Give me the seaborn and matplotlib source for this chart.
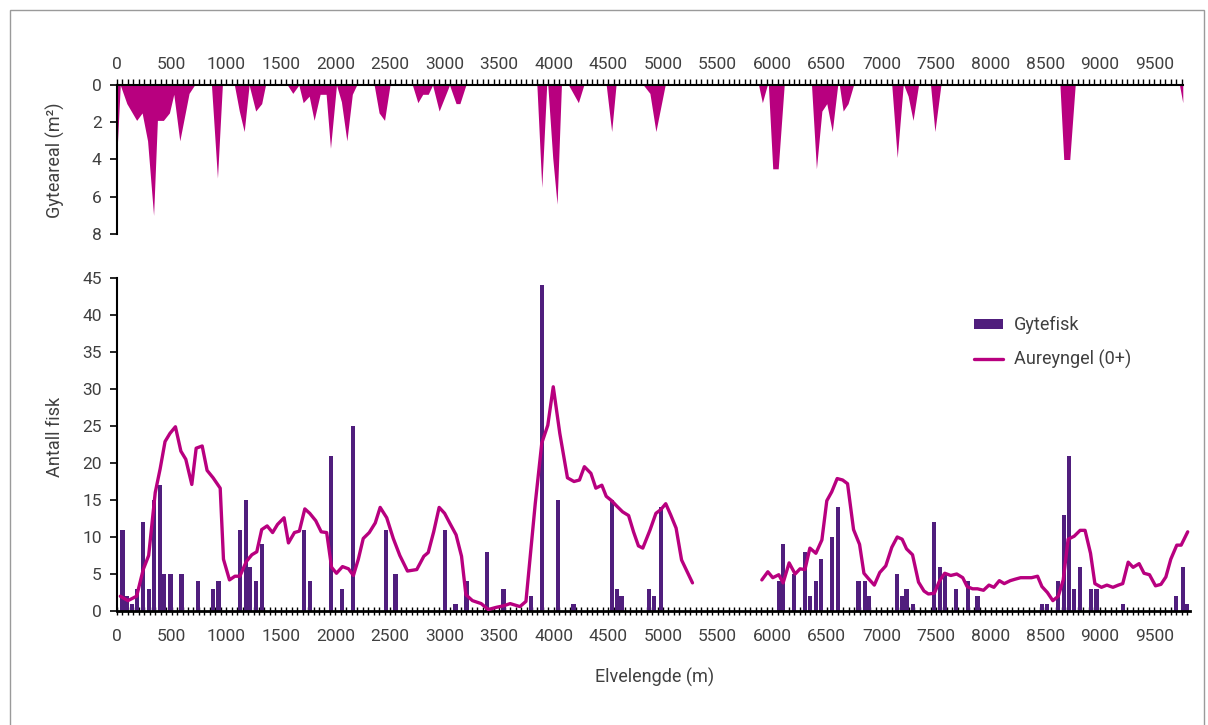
import numpy as np
import seaborn as sns
import matplotlib.pyplot as plt
from matplotlib.ticker import MultipleLocator
from matplotlib.patches import Rectangle

# Gyteareal (m2) along the river, top panel
areal_pos = [0, 30, 90, 180, 230, 280, 335, 370, 425, 480, 520, 575, 660, 710,
             865, 920, 965,
             1075, 1120, 1165, 1210, 1270, 1325, 1360,
             1560, 1610, 1665, 1705, 1760, 1805, 1860, 1915, 1955, 2010, 2055, 2105, 2155, 2195,
             2355, 2400, 2450, 2500,
             2705, 2755, 2800, 2850, 2890, 2950, 3045, 3105, 3140, 3195,
             3845, 3890, 3935, 3945, 3990, 4030, 4070,
             4135, 4225, 4275,
             4480, 4530, 4570,
             4820, 4880, 4935, 5020,
             5875, 5910, 5955, 5965, 6005, 6055, 6110,
             6360, 6405, 6455, 6500, 6550, 6600, 6615, 6650, 6695, 6745,
             7095, 7145, 7200, 7205, 7245, 7290, 7340,
             7450, 7490, 7545,
             8635, 8670, 8725, 8775,
             9730, 9760]
areal_val = [3.6, 0, 1, 1.9, 1.5, 3, 7, 1.9, 1.9, 1.5, 0.5, 3, 0.45, 0,
             0, 5, 0,
             0, 1.4, 2.5, 0, 1.4, 1, 0,
             0, 0.45, 0, 0.95, 0.6, 1.9, 0.5, 0.5, 3.4, 0, 0.9, 3, 0.5, 0,
             0, 1.5, 1.9, 0,
             0, 0.95, 0.5, 0.5, 0, 1.4, 0, 1, 1, 0,
             0, 5.5, 0, 0, 3.9, 6.4, 0,
             0, 0.95, 0,
             0, 2.5, 0,
             0, 0.45, 2.5, 0,
             0, 0.95, 0, 0, 4.5, 4.5, 0,
             0, 4.5, 1.4, 1, 2.5, 0, 0, 1.4, 1, 0,
             0, 3.9, 0, 0, 0.6, 1.9, 0,
             0, 2.5, 0,
             0, 4, 4, 0,
             0, 0.95]

# Gytefisk (bars)
gyte_pos = [50, 90, 140, 180, 240, 290, 340, 390, 430, 490,
            590, 740, 880, 930, 1130, 1180, 1220, 1270, 1330, 1710,
            1770, 1960, 2060, 2160, 2460, 2550, 3000, 3100, 3200, 3390,
            3540, 3790, 3890, 4040, 4180, 4530, 4580, 4620, 4870, 4920,
            4980, 6060, 6100, 6200, 6300, 6350, 6400, 6450, 6550, 6600,
            6790, 6850, 6890, 7140, 7190, 7230, 7290, 7480, 7540, 7580,
            7680, 7790, 7880, 8470, 8520, 8620, 8670, 8720, 8760, 8820,
            8920, 8970, 9210, 9700, 9760, 9800]
gyte_val = [11, 2, 1, 3, 12, 3, 15, 17, 5, 5,
            5, 4, 3, 4, 11, 15, 6, 4, 9, 11,
            4, 21, 3, 25, 11, 5, 11, 1, 4, 8,
            3, 2, 44, 15, 1, 15, 3, 2, 3, 2,
            14, 4, 9, 5, 8, 2, 4, 7, 10, 14,
            4, 4, 2, 5, 2, 3, 1, 12, 6, 5,
            3, 4, 2, 1, 1, 4, 13, 21, 3, 6,
            3, 3, 1, 2, 6, 1]

# Aureyngel (0+), two stretches with a gap in between
aure_pos1 = [30, 100, 180, 240, 290, 350, 395, 440, 485, 535, 585, 630, 685, 725, 780,
             825, 880, 945, 975, 1030, 1080, 1125, 1185, 1235, 1280, 1325, 1375, 1425,
             1470, 1530, 1570, 1625, 1670, 1720, 1765, 1820, 1870, 1920, 1965, 2010,
             2065, 2120, 2165, 2210, 2255, 2310, 2365, 2410, 2470, 2530, 2590, 2660,
             2745, 2810, 2850, 2900, 2950, 3000, 3050, 3105, 3155, 3195, 3255, 3335,
             3400, 3475, 3540, 3600, 3690, 3745, 3830, 3890, 3945, 3995, 4055, 4125,
             4185, 4235, 4280, 4340, 4385, 4440, 4480, 4530, 4575, 4630, 4685, 4730,
             4775, 4815, 4880, 4935, 4980, 5025, 5070, 5120, 5170, 5270]
aure_val1 = [2.0, 1.4, 2.0, 5.6, 7.5, 16, 19.2, 22.9, 24, 24.9, 21.6, 20.5, 17.1, 22, 22.3,
             19, 18, 16.6, 7, 4.2, 4.7, 4.7, 6.7, 7.6, 8, 11, 11.5, 10.6,
             11.7, 12.6, 9.2, 10.6, 10.8, 13.8, 13.2, 12.2, 10.7, 10.6, 5.9, 5.1,
             6, 5.7, 4.8, 7, 9.8, 10.6, 11.9, 14, 12.6, 9.8, 7.5, 5.4,
             5.6, 7.4, 7.9, 10.7, 14, 13.2, 11.8, 10.3, 7.4, 2.2, 1.4, 1.0,
             0.2, 0.5, 0.7, 1.0, 0.6, 1.3, 14.5, 22.7, 25.1, 30.3, 24, 18,
             17.5, 17.7, 19.5, 18.6, 16.6, 17, 15.5, 14.9, 14.2, 13.4, 12.9, 10.7,
             8.8, 8.5, 10.9, 13.2, 13.7, 14.5, 13, 11.2, 6.9, 3.8]
aure_pos2 = [5905, 5960, 6005, 6060, 6100, 6155, 6210, 6255, 6300, 6345, 6400, 6455,
             6500, 6545, 6595, 6645, 6690, 6745, 6800, 6840, 6880, 6935, 6985, 7040,
             7095, 7145, 7190, 7230, 7285, 7340, 7390, 7430, 7485, 7530, 7580, 7635,
             7690, 7745, 7785, 7835, 7880, 7935, 7985, 8030, 8080, 8125, 8180, 8225,
             8275, 8325, 8375, 8430, 8470, 8520, 8570, 8620, 8665, 8710, 8765, 8820,
             8865, 8915, 8955, 9015, 9065, 9120, 9170, 9210, 9260, 9305, 9360, 9405,
             9455, 9510, 9560, 9605, 9650, 9705, 9745, 9805]
aure_val2 = [4.2, 5.3, 4.5, 4.9, 3.8, 6.5, 5, 5.7, 5.6, 8.5, 7.8, 9.6,
             14.9, 16.1, 17.9, 17.7, 17.2, 11, 9, 5.1, 4.4, 3.5, 5.2, 6.1,
             8.6, 10, 9.7, 8.4, 7.6, 3.9, 2.7, 2.3, 2.4, 4, 5.1, 4.8,
             5, 4.5, 3.3, 3, 3, 2.8, 3.5, 3.2, 4.1, 3.7, 4.1, 4.3,
             4.5, 4.5, 4.5, 4.7, 3.3, 2.5, 1.4, 2, 4.2, 9.7, 10.1, 10.9,
             10.9, 7.8, 3.7, 3.2, 3.5, 3.2, 3.5, 3.7, 6.6, 5.9, 6.4, 5.1,
             4.9, 3.4, 3.6, 4.6, 7, 8.9, 8.9, 10.7]

PURPLE = "#501e7d"
MAGENTA = "#b8007f"
TXT = "#404040"
BAR_W = 38  # metres

sns.set_style("ticks")
plt.rcParams['font.family'] = ['Roboto', 'DejaVu Sans']
plt.rcParams['text.color'] = TXT
plt.rcParams['xtick.color'] = "black"
plt.rcParams['ytick.color'] = "black"
plt.rcParams['xtick.labelcolor'] = TXT
plt.rcParams['ytick.labelcolor'] = TXT

W, H = 1208, 725
fig = plt.figure(figsize=(W / 100, H / 100), dpi=100)
fig.patches.append(Rectangle((10 / W, -0.1), (1204 - 10) / W, 1 - 10 / H + 0.1,
                             transform=fig.transFigure, fill=False, ec="#9a9a9a", lw=1))

# top panel: spawning area, hanging down from the axis
ax1 = fig.add_axes([117 / W, 1 - 234 / H, 1066 / W, 149 / H])
ax1.fill_between(areal_pos, areal_val, 0, color=MAGENTA, lw=0)
ax1.set_xlim(0, 9762)
ax1.set_ylim(8, 0)
ax1.xaxis.tick_top()
ax1.xaxis.set_major_locator(MultipleLocator(500))
ax1.xaxis.set_minor_locator(MultipleLocator(50))
ax1.yaxis.set_major_locator(MultipleLocator(2))
ax1.tick_params(axis='x', which='both', direction='out', length=4, width=1, pad=5, labelsize=12.5)
ax1.tick_params(axis='y', direction='out', length=5, width=1.2, pad=6, labelsize=12.5)
for s in ['bottom', 'right']:
    ax1.spines[s].set_visible(False)
for s in ['top', 'left']:
    ax1.spines[s].set_color('black')
    ax1.spines[s].set_linewidth(1.5)

# bottom panel: fish counts
ax2 = fig.add_axes([117 / W, 1 - 611 / H, 1073 / W, 333 / H])
sns.barplot(x=gyte_pos, y=gyte_val, native_scale=True, color=PURPLE,
            saturation=1, errorbar=None, orient='x', ax=ax2, label='Gytefisk',
            linewidth=0, edgecolor=PURPLE, zorder=2)
# set the bar width in metres
for p in ax2.patches:
    c = p.get_x() + p.get_width() / 2
    p.set_width(BAR_W)
    p.set_x(c - BAR_W / 2)
sns.lineplot(x=aure_pos1, y=aure_val1, color=MAGENTA, lw=2.4, ax=ax2,
             label='Aureyngel (0+)', zorder=3)
sns.lineplot(x=aure_pos2, y=aure_val2, color=MAGENTA, lw=2.4, ax=ax2,
             label='_nolegend_', zorder=3)
ax2.set_xlim(0, 9826)
ax2.set_ylim(0, 45)
ax2.set_xlabel('')
ax2.set_ylabel('')
ax2.xaxis.set_major_locator(MultipleLocator(500))
ax2.xaxis.set_minor_locator(MultipleLocator(50))
ax2.yaxis.set_major_locator(MultipleLocator(5))
ax2.tick_params(axis='x', which='both', direction='inout', length=6, width=1, pad=10, labelsize=12.5)
ax2.tick_params(axis='y', direction='out', length=5, width=1.2, pad=6, labelsize=12.5)
sns.despine(ax=ax2)
ax2.spines['bottom'].set_linewidth(2)
ax2.spines['left'].set_linewidth(1.5)
ax2.spines['bottom'].set_color('black')
ax2.spines['left'].set_color('black')

handles, labels = ax2.get_legend_handles_labels()
order = [labels.index('Gytefisk'), labels.index('Aureyngel (0+)')]
ax2.legend([handles[i] for i in order], [labels[i] for i in order],
           loc='upper left', bbox_to_anchor=(958 / W, 1 - 300 / H),
           bbox_transform=fig.transFigure, frameon=False, fontsize=13,
           handlelength=1.6, handleheight=0.5, labelspacing=0.85, handletextpad=0.6)

fig.text(55 / W, 1 - 160 / H, 'Gyteareal (m²)', rotation=90, ha='center', va='center', fontsize=13)
fig.text(55 / W, 1 - 437 / H, 'Antall fisk', rotation=90, ha='center', va='center', fontsize=13)
fig.text(655 / W, 1 - 677 / H, 'Elvelengde (m)', ha='center', va='center', fontsize=13)

fig.savefig('out.png', dpi=100)
